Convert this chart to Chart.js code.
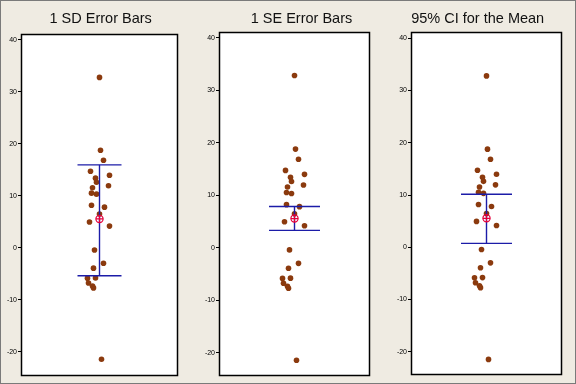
<!DOCTYPE html>
<html><head><meta charset="utf-8">
<script src="https://cdn.jsdelivr.net/npm/chart.js@4/dist/chart.umd.min.js"></script>
<style>
html,body{margin:0;padding:0;}
body{width:576px;height:384px;overflow:hidden;background:#efebe2;position:relative;}
#frame{position:absolute;left:0;top:0;width:574px;height:382px;border:1px solid #7a7a7a;}
canvas{position:absolute;left:0;top:0;}
.t{position:absolute;top:11px;width:220px;margin-left:-110px;text-align:center;font:14.5px/14.5px "Liberation Sans",Arial,sans-serif;color:#111;white-space:nowrap;}
</style></head>
<body>
<div id="frame"></div>
<canvas id="c0" width="576" height="384"></canvas>
<canvas id="c1" width="576" height="384"></canvas>
<canvas id="c2" width="576" height="384"></canvas>
<script>
// ---- data ----
const titles = ['1 SD Error Bars', '1 SE Error Bars', '95% CI for the Mean'];
const values = [32.8, 18.78, 16.85, 14.73, 13.97, 13.4, 12.62, 11.95, 11.55, 10.52, 10.32, 8.2, 7.82, 6.48, 4.95, 4.17, -0.42, -2.98, -3.92, -5.85, -5.8, -6.78, -7.35, -7.72, -21.45];
const jitter = [0, 1, 4, -9, 10, -4, -3, 9, -7, -8, -3, -8, 5, 0, -10, 10, -5, 4, -6, -12, -4, -11, -7, -6, 2];
const means  = [5.55, 5.55, 5.55];
const lowers = [-5.38, 3.3, 0.75];
const uppers = [15.96, 7.85, 10.15];
const yTicks = [-20, -10, 0, 10, 20, 30, 40];

// ---- layout / style ----
const panels = [
  {left: 21,  right: 178, top: 34, bottom: 376, ymin: -24.68, ymax: 41.15, cap: 22,   tx: 100.7},
  {left: 219, right: 370, top: 32, bottom: 376, ymin: -24.44, ymax: 41.09, cap: 25.5, tx: 301.5},
  {left: 411, right: 562, top: 32, bottom: 375, ymin: -24.44, ymax: 41.2,  cap: 25.5, tx: 477.7}
];
const AXW = 20;
const NAVY = '#1c1ca8', RED = '#e4003c', BROWN = '#8b3a0e';

const framePlugin = {
  id: 'framePlugin',
  beforeDraw(c) {
    const a = c.chartArea, x = c.ctx;
    x.save(); x.fillStyle = '#ffffff';
    x.fillRect(a.left, a.top, a.right - a.left, a.bottom - a.top);
    x.restore();
  },
  afterDraw(c) {
    const a = c.chartArea, x = c.ctx;
    x.save(); x.strokeStyle = '#000'; x.lineWidth = 1.5;
    x.strokeRect(a.left + 0.5, a.top + 0.5, a.right - a.left - 1, a.bottom - a.top - 1);
    x.restore();
  }
};

panels.forEach((p, k) => {
  const t = document.createElement('div');
  t.className = 't'; t.style.left = p.tx + 'px'; t.textContent = titles[k];
  document.body.appendChild(t);

  const half = (p.right - p.left) / 2;
  const line = (data) => ({data, showLine: true, borderColor: NAVY, borderWidth: 1.4, pointRadius: 0, fill: false});
  new Chart(document.getElementById('c' + k), {
    type: 'scatter',
    data: {
      datasets: [
        {data: [{x: 0, y: means[k]}], pointStyle: 'circle', pointRadius: 3.6, backgroundColor: 'rgba(0,0,0,0)', borderColor: RED, borderWidth: 1.2},
        {data: [{x: 0, y: means[k]}], pointStyle: 'cross', pointRadius: 3.6, borderColor: RED, borderWidth: 1.2},
        line([{x: 0, y: lowers[k]}, {x: 0, y: uppers[k]}]),
        line([{x: -p.cap, y: uppers[k]}, {x: p.cap, y: uppers[k]}]),
        line([{x: -p.cap, y: lowers[k]}, {x: p.cap, y: lowers[k]}]),
        {data: values.map((v, i) => ({x: jitter[i], y: v})), pointRadius: 2.8, backgroundColor: BROWN, borderWidth: 0}
      ]
    },
    options: {
      responsive: false, animation: false, devicePixelRatio: 1,
      layout: {padding: {left: p.left - AXW, right: 576 - p.right, top: p.top, bottom: 384 - p.bottom}},
      plugins: {legend: {display: false}, title: {display: false}, tooltip: {enabled: false}},
      scales: {
        x: {type: 'linear', display: false, min: -half, max: half},
        y: {
          type: 'linear', min: p.ymin, max: p.ymax,
          afterFit: s => { s.width = AXW; },
          afterBuildTicks: s => { s.ticks = yTicks.map(v => ({value: v})); },
          border: {display: false},
          grid: {drawOnChartArea: false, drawTicks: true, tickLength: 3, color: '#000', lineWidth: 1},
          ticks: {padding: 1, color: '#000', font: {family: 'Liberation Sans', size: 7}}
        }
      }
    },
    plugins: [framePlugin]
  });
});
</script>
</body></html>
